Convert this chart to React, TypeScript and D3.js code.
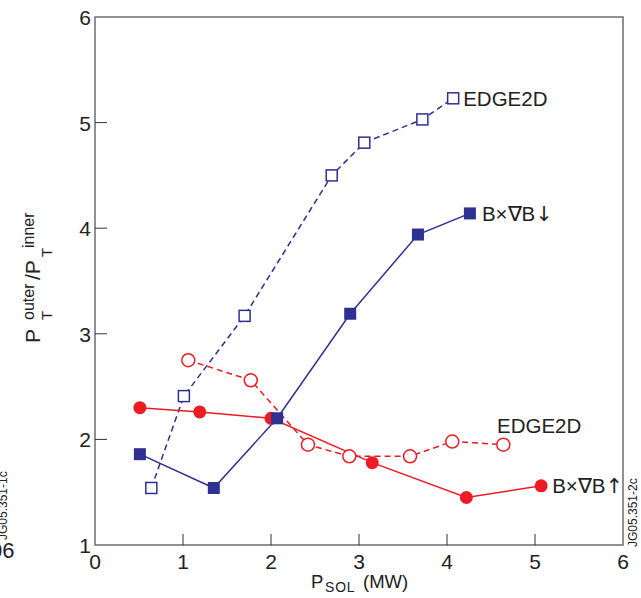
import React from 'react';
import * as d3 from 'd3';

// EDGE2D, B x gradB down (open squares, dashed)
const edgeDownX = [0.64, 1.01, 1.70, 2.69, 3.06, 3.72, 4.07];
const edgeDownY = [1.54, 2.41, 3.17, 4.50, 4.81, 5.03, 5.23];
// experiment, B x gradB down (filled squares)
const expDownX = [0.51, 1.35, 2.07, 2.90, 3.67, 4.26];
const expDownY = [1.86, 1.54, 2.20, 3.19, 3.94, 4.14];
// experiment, B x gradB up (filled circles)
const expUpX = [0.51, 1.19, 2.0, 3.15, 4.22, 5.07];
const expUpY = [2.30, 2.26, 2.20, 1.78, 1.45, 1.56];
// EDGE2D, B x gradB up (open circles, dashed)
const edgeUpX = [1.06, 1.77, 2.42, 2.89, 3.58, 4.06, 4.64];
const edgeUpY = [2.75, 2.56, 1.95, 1.84, 1.84, 1.98, 1.95];

const xTicks = [0, 1, 2, 3, 4, 5, 6];
const yTicks = [1, 2, 3, 4, 5, 6];

const blue = '#2e3192';
const red = '#ed1c24';
const axisColor = '#6d6d6d';
const ink = '#222';
const font = 'Liberation Sans, Arial, sans-serif';
const arrowFont = '"DejaVu Sans"';

const App = () => {
  const W = 641;
  const H = 598;
  const x = d3.scaleLinear().domain([0, 6]).range([95, 623]);
  const y = d3.scaleLinear().domain([1, 6]).range([545, 17]);

  const pts = (xs: number[], ys: number[]) => xs.map((v, i) => [v, ys[i]] as [number, number]);
  const line = d3.line<[number, number]>().x(d => x(d[0])).y(d => y(d[1]));

  const edgeDown = pts(edgeDownX, edgeDownY);
  const expDown = pts(expDownX, expDownY);
  const expUp = pts(expUpX, expUpY);
  const edgeUp = pts(edgeUpX, edgeUpY);

  return (
    <svg width={W} height={H} style={{ position: 'absolute', left: 0, top: 0 }} fontFamily={font}>
      <rect x={0} y={0} width={W} height={H} fill="white" />
      {/* frame */}
      <rect x={x(0)} y={y(6)} width={x(6) - x(0)} height={y(1) - y(6)} fill="none" stroke={axisColor} strokeWidth={1.5} />
      {/* ticks */}
      {xTicks.slice(1, -1).map(t => (
        <line key={'xt' + t} x1={x(t)} x2={x(t)} y1={y(1)} y2={y(1) - 11} stroke="#333" strokeWidth={1} />
      ))}
      {yTicks.slice(1, -1).map(t => (
        <line key={'yt' + t} x1={x(0)} x2={x(0) + 12} y1={y(t)} y2={y(t)} stroke="#333" strokeWidth={1} />
      ))}
      {xTicks.map(t => (
        <text key={'xl' + t} x={x(t)} y={y(1) + 24} fontSize={21} textAnchor="middle" fill={ink}>{t}</text>
      ))}
      {yTicks.map(t => (
        <text key={'yl' + t} x={x(0) - 4} y={y(t) + 8} fontSize={21} textAnchor="end" fill={ink}>{t}</text>
      ))}

      {/* x axis title */}
      <text x={311} y={588} fontSize={18.5} fill={ink}>P</text>
      <text x={325} y={592} fontSize={14} fill={ink} letterSpacing={0.8}>SOL</text>
      <text x={363} y={588} fontSize={18.5} fill={ink}>(MW)</text>

      {/* y axis title */}
      <text transform="translate(40,343) rotate(-90)" fontSize={21} fill={ink}>P</text>
      <text transform="translate(52,320) rotate(-90)" fontSize={15} fill={ink}>T</text>
      <text transform="translate(34,320) rotate(-90)" fontSize={16} fill={ink}>outer</text>
      <text transform="translate(40,280) rotate(-90)" fontSize={21} fill={ink}>/P</text>
      <text transform="translate(52,257) rotate(-90)" fontSize={15} fill={ink}>T</text>
      <text transform="translate(34,248) rotate(-90)" fontSize={16} fill={ink}>inner</text>

      {/* lines */}
      <path d={line(edgeDown) || ''} fill="none" stroke={blue} strokeWidth={1.5} strokeDasharray="6,4" />
      <path d={line(expDown) || ''} fill="none" stroke={blue} strokeWidth={1.5} />
      <path d={line(edgeUp) || ''} fill="none" stroke={red} strokeWidth={1.5} strokeDasharray="6,4" />
      <path d={line(expUp) || ''} fill="none" stroke={red} strokeWidth={1.5} />

      {/* markers */}
      {edgeUp.map((d, i) => (
        <circle key={'eu' + i} cx={x(d[0])} cy={y(d[1])} r={6.5} fill="white" stroke={red} strokeWidth={1.5} />
      ))}
      {expUp.map((d, i) => (
        <circle key={'xu' + i} cx={x(d[0])} cy={y(d[1])} r={6.5} fill={red} />
      ))}
      {edgeDown.map((d, i) => (
        <rect key={'ed' + i} x={x(d[0]) - 5.5} y={y(d[1]) - 5.5} width={11} height={11} fill="white" stroke={blue} strokeWidth={1.5} />
      ))}
      {expDown.map((d, i) => (
        <rect key={'xd' + i} x={x(d[0]) - 6} y={y(d[1]) - 6} width={12} height={12} fill={blue} />
      ))}

      {/* series labels */}
      <text x={x(edgeDownX[6]) + 10} y={y(edgeDownY[6]) + 7.5} fontSize={20.5} fill={ink}>EDGE2D</text>
      <text x={x(expDownX[5]) + 12} y={y(expDownY[5]) + 8} fontSize={20.5} fill={ink}>
        B×∇B<tspan fontFamily={arrowFont}>{'\u2193\uFE0E'}</tspan>
      </text>
      <text x={497} y={433} fontSize={20.5} fill={ink}>EDGE2D</text>
      <text x={x(expUpX[5]) + 11} y={y(expUpY[5]) + 7.5} fontSize={20.5} fill={ink}>
        B×∇B<tspan fontFamily={arrowFont}>{'\u2191\uFE0E'}</tspan>
      </text>

      {/* figure codes */}
      <text transform="translate(637,547) rotate(-90)" fontSize={12} fill={ink}>JG05.351-2c</text>
      <text transform="translate(7,540) rotate(-90)" fontSize={12} fill={ink}>JG05.351-1c</text>
      <text x={-10} y={558} fontSize={22} fill={ink}>06</text>
    </svg>
  );
};

export default App;
